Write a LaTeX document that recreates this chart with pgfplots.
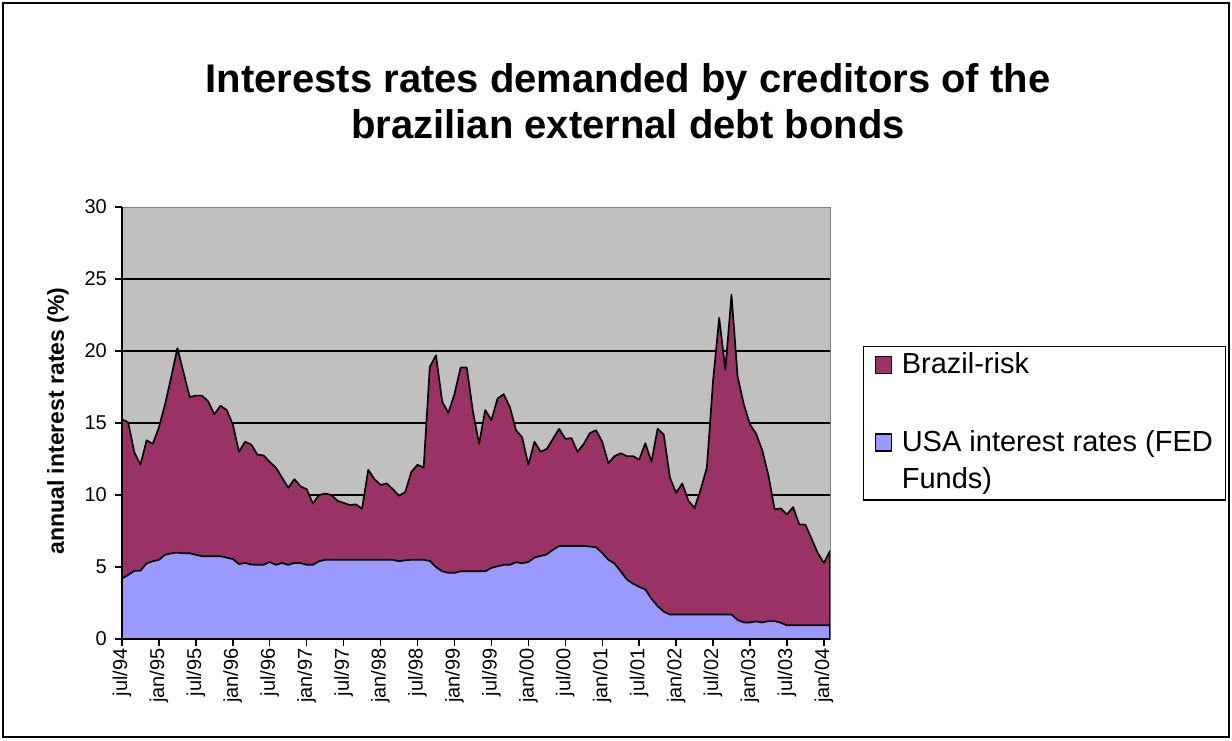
\documentclass[border=0pt]{standalone}
\usepackage{fontspec}
\setmainfont{Liberation Sans}
\usepackage{pgfplots}
\usepackage{pgfplotstable}
\pgfplotsset{compat=1.18}
\definecolor{riskcol}{HTML}{993366}
\definecolor{usacol}{HTML}{9999FF}
\definecolor{plotbg}{HTML}{C0C0C0}
\definecolor{bordergray}{HTML}{808080}

\pgfplotstableread{
i usa total
0 4.20 15.25
1 4.45 15.05
2 4.73 12.97
3 4.75 12.10
4 5.25 13.80
5 5.40 13.55
6 5.50 14.70
7 5.85 16.30
8 5.95 18.20
9 6.00 20.20
10 5.95 18.50
11 5.95 16.80
12 5.85 16.90
13 5.75 16.90
14 5.75 16.50
15 5.75 15.60
16 5.75 16.20
17 5.65 15.90
18 5.55 14.90
19 5.20 13.00
20 5.28 13.70
21 5.17 13.50
22 5.15 12.80
23 5.15 12.75
24 5.35 12.30
25 5.15 11.90
26 5.28 11.20
27 5.15 10.50
28 5.28 11.10
29 5.28 10.60
30 5.15 10.40
31 5.15 9.40
32 5.40 10.00
33 5.50 10.10
34 5.50 10.00
35 5.50 9.60
36 5.50 9.45
37 5.50 9.30
38 5.50 9.35
39 5.50 9.05
40 5.50 11.75
41 5.50 11.10
42 5.50 10.70
43 5.50 10.80
44 5.50 10.40
45 5.40 9.95
46 5.47 10.20
47 5.50 11.60
48 5.50 12.10
49 5.50 11.90
50 5.42 18.90
51 5.00 19.70
52 4.70 16.50
53 4.60 15.70
54 4.60 17.00
55 4.70 18.85
56 4.70 18.85
57 4.70 15.80
58 4.70 13.55
59 4.70 15.90
60 4.94 15.20
61 5.05 16.70
62 5.15 17.00
63 5.15 16.10
64 5.33 14.50
65 5.26 14.00
66 5.35 12.10
67 5.65 13.70
68 5.77 13.00
69 5.88 13.20
70 6.20 13.90
71 6.46 14.60
72 6.46 13.90
73 6.46 13.95
74 6.46 13.00
75 6.46 13.55
76 6.42 14.30
77 6.37 14.50
78 5.98 13.70
79 5.50 12.20
80 5.24 12.70
81 4.70 12.90
82 4.13 12.70
83 3.85 12.70
84 3.62 12.45
85 3.44 13.60
86 2.80 12.30
87 2.28 14.60
88 1.90 14.20
89 1.70 11.20
90 1.70 10.15
91 1.70 10.80
92 1.70 9.60
93 1.70 9.10
94 1.70 10.40
95 1.70 11.90
96 1.70 17.90
97 1.70 22.30
98 1.70 18.70
99 1.70 23.90
100 1.32 18.20
101 1.15 16.30
102 1.15 14.90
103 1.22 14.25
104 1.15 13.10
105 1.24 11.35
106 1.24 9.00
107 1.13 9.07
108 0.95 8.65
109 0.95 9.16
110 0.95 7.96
111 0.95 7.94
112 0.95 6.97
113 0.95 5.98
114 0.95 5.28
115 0.95 6.10
}\data

\begin{document}
\begin{tikzpicture}[x=1pt,y=1pt]
\path[use as bounding box] (0,0) rectangle (1232,740);
\draw[black, line width=1.4pt] (3,3) rectangle (1229,737);

\begin{axis}[
  at={(122pt,101pt)}, anchor=south west,
  scale only axis, width=708pt, height=432pt,
  xmin=0, xmax=115, ymin=0, ymax=30,
  axis background/.style={fill=plotbg, draw=bordergray, line width=1pt},
  axis x line*=bottom, axis y line*=left,
  axis line style={black, line width=1.5pt},
  xtick={0,6,...,114},
  xticklabels={jul/94,jan/95,jul/95,jan/96,jul/96,jan/97,jul/97,jan/98,jul/98,jan/99,jul/99,jan/00,jul/00,jan/01,jul/01,jan/02,jul/02,jan/03,jul/03,jan/04},
  ytick={0,5,...,25},
  extra y ticks={30},
  extra y tick style={grid=none},
  ymajorgrids,
  major grid style={black, line width=1.5pt},
  tick align=outside,
  major tick length=7pt,
  tick style={black, line width=1.4pt},
  /pgf/number format/assume math mode=true,
  ticklabel style={font=\fontsize{20}{24}\selectfont, inner sep=2pt},
  yticklabel style={xshift=-6pt},
  xticklabel style={rotate=90, anchor=east},
  legend style={
    at={(axis description cs:1.0466,0.678)}, anchor=north west,
    draw=black, line width=1.2pt, fill=white,
    inner xsep=11pt, inner ysep=4pt,
    row sep=52pt, column sep=8pt,
    font=\fontsize{29}{37}\selectfont,
    cells={anchor=base west},
    nodes={inner sep=2pt, text depth=},
  },
  legend image code/.code={\draw[#1, draw=black, line width=1.2pt] (0pt,0pt) rectangle (16pt,17pt);},
]
\addplot[fill=riskcol, draw=black, line width=1.7pt, line join=round] table[x=i, y=total] {\data} \closedcycle;
\addlegendentry{Brazil-risk}
\addplot[fill=usacol, draw=black, line width=1.7pt, line join=round] table[x=i, y=usa] {\data} \closedcycle;
\addlegendentry{\vtop{\hbox{USA interest rates (FED}\hbox{Funds)}}}
\end{axis}

\node[font=\bfseries\fontsize{40}{46}\selectfont, anchor=base] at (628,647) {Interests rates demanded by creditors of the};
\node[font=\bfseries\fontsize{40}{46}\selectfont, anchor=base] at (628,601) {brazilian external debt bonds};
\node[rotate=90, font=\bfseries\fontsize{23}{28}\selectfont] at (58,319) {annual interest rates (\%)};
\end{tikzpicture}
\end{document}
